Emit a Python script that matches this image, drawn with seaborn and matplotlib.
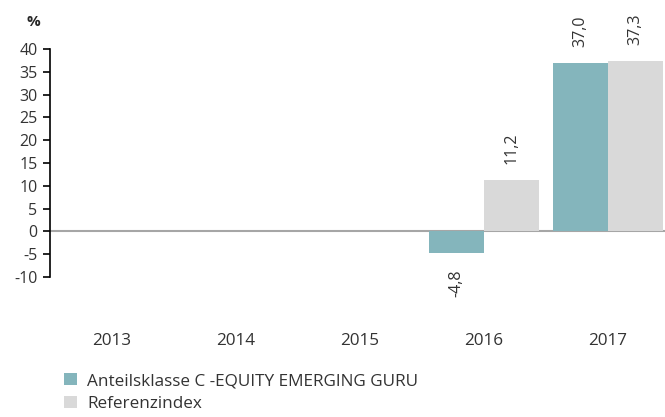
import matplotlib
matplotlib.use("Agg")
import matplotlib.pyplot as plt
import seaborn as sns
import pandas as pd
import numpy as np
from matplotlib.patches import Patch

years = ["2013", "2014", "2015", "2016", "2017"]
fund_values = [np.nan, np.nan, np.nan, -4.8, 37.0]
index_values = [np.nan, np.nan, np.nan, 11.2, 37.3]
series_names = ["Anteilsklasse C -EQUITY EMERGING GURU", "Referenzindex"]
colors = ["#84b5bc", "#d9d9d9"]
y_ticks = [-10, -5, 0, 5, 10, 15, 20, 25, 30, 35, 40]

sns.set_style("white")
plt.rcParams['font.family'] = ['Open Sans', 'DejaVu Sans']

df = pd.DataFrame({
    "year": years * 2,
    "value": fund_values + index_values,
    "series": [series_names[0]] * len(years) + [series_names[1]] * len(years),
})

fig = plt.figure(figsize=(6.65, 4.17), dpi=100)
ax = fig.add_axes([50 / 665, 140 / 417, 620 / 665, 228 / 417])

sns.barplot(data=df, x="year", y="value", hue="series", order=years,
            hue_order=series_names, palette=colors, width=0.89, gap=0,
            saturation=1, ax=ax, legend=False, linewidth=0)

ax.set_xlim(-0.5, 4.5)
ax.set_ylim(-10, 40)
ax.set_yticks(y_ticks)
ax.set_yticklabels([str(t) for t in y_ticks], fontsize=11.5, color="#333333")
ax.tick_params(axis="y", direction="out", length=5, width=1.2, color="black", pad=4, left=True)
ax.tick_params(axis="x", length=0, pad=40, labelsize=12.3, labelcolor="#333333")
ax.set_xlabel("")
ax.set_ylabel("")
for s in ["top", "right", "bottom"]:
    ax.spines[s].set_visible(False)
ax.spines["left"].set_color("black")
ax.spines["left"].set_linewidth(1.2)
ax.axhline(0, color="#a6a6a6", linewidth=1.5, zorder=0.5)

for cont in ax.containers:
    for bar in cont:
        if bar is None:
            continue
        h = bar.get_height()
        if np.isnan(h):
            continue
        xc = bar.get_x() + bar.get_width() / 2
        txt = f"{h:.1f}".replace(".", ",")
        if h >= 0:
            ax.annotate(txt, (xc, h), xytext=(0, 11.5), textcoords="offset points",
                        rotation=90, ha="center", va="bottom", fontsize=11.5,
                        color="#333333", annotation_clip=False)
        else:
            ax.annotate(txt, (xc, h), xytext=(0, -11.5), textcoords="offset points",
                        rotation=90, ha="center", va="top", fontsize=11.5,
                        color="#333333", annotation_clip=False)

fig.text(33 / 665, 1 - 22 / 417, "%", fontsize=11, fontweight="bold", ha="center", va="center")

handles = [Patch(facecolor=c, edgecolor="none") for c in colors]
fig.legend(handles, series_names, loc="lower left", bbox_to_anchor=(49 / 665, -0.025),
           frameon=False, fontsize=12.3, handlelength=0.75, handleheight=0.75,
           handletextpad=0.6, labelspacing=0.4, labelcolor="#333333")

fig.savefig("out.png", dpi=100)
